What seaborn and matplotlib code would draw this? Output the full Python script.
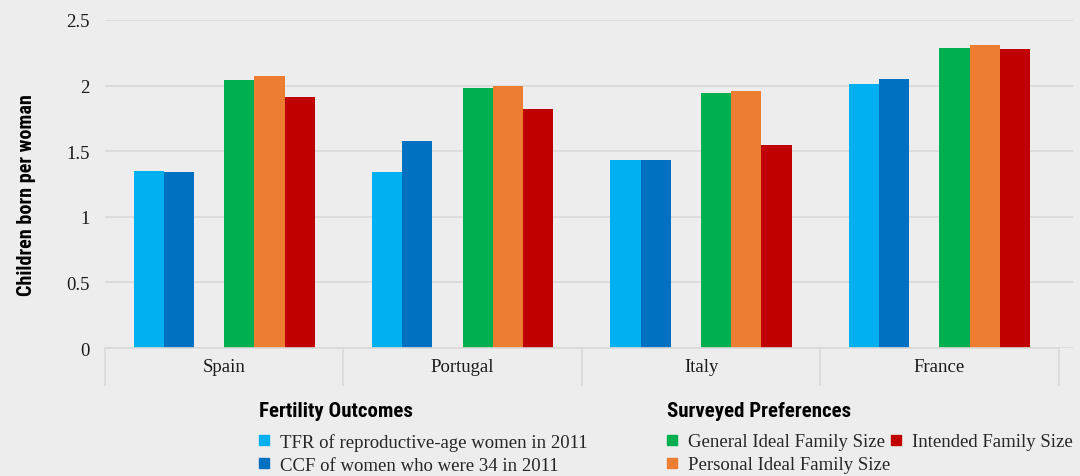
import pandas as pd
import matplotlib
matplotlib.use("Agg")
import matplotlib.pyplot as plt
from matplotlib.lines import Line2D
import seaborn as sns

# valores
paises = ["Spain", "Portugal", "Italy", "France"]
tfr_2011 = [1.35, 1.34, 1.43, 2.01]
ccf_34 = [1.34, 1.58, 1.43, 2.05]
ideal_general = [2.04, 1.98, 1.94, 2.29]
ideal_personal = [2.07, 2.00, 1.96, 2.31]
tamano_previsto = [1.91, 1.82, 1.55, 2.28]

series = {
    "TFR of reproductive-age women in 2011": tfr_2011,
    "CCF of women who were 34 in 2011": ccf_34,
    " ": [0, 0, 0, 0],  # hueco entre grupos
    "General Ideal Family Size": ideal_general,
    "Personal Ideal Family Size": ideal_personal,
    "Intended Family Size": tamano_previsto,
}
colores = {
    "TFR of reproductive-age women in 2011": "#00B0F0",
    "CCF of women who were 34 in 2011": "#0070C0",
    " ": "#EDEDED",
    "General Ideal Family Size": "#00B050",
    "Personal Ideal Family Size": "#ED7D31",
    "Intended Family Size": "#C00000",
}

filas = []
for nombre, valores in series.items():
    for pais, v in zip(paises, valores):
        filas.append({"pais": pais, "serie": nombre, "valor": v})
df = pd.DataFrame(filas)

sns.set_theme(style="white")
fondo = "#EDEDED"
rejilla = "#D9D9D9"
serif = ["Liberation Serif", "DejaVu Serif"]
cond = ["Roboto Condensed", "Roboto", "DejaVu Sans"]
plt.rcParams["font.family"] = serif

fig = plt.figure(figsize=(10.8, 4.77), dpi=100, facecolor=fondo)
ax = fig.add_axes([0.0972, 0.2683, 0.8963, 0.6877])
ax.set_facecolor(fondo)

sns.barplot(data=df, x="pais", y="valor", hue="serie", hue_order=list(series.keys()),
            order=paises, palette=colores, width=0.76, linewidth=0, saturation=1,
            legend=False, ax=ax)

ax.set_ylim(0, 2.5)
ax.set_xlim(-0.5, 3.56)
ax.set_yticks([0, 0.5, 1, 1.5, 2, 2.5])
ax.set_yticklabels(["0", "0.5", "1", "1.5", "2", "2.5"])
ax.yaxis.grid(True, color=rejilla, linewidth=1.2)
ax.set_axisbelow(True)
for s in ["top", "right", "left"]:
    ax.spines[s].set_visible(False)
ax.spines["bottom"].set_color(rejilla)
ax.spines["bottom"].set_linewidth(1.2)
ax.spines["bottom"].set_bounds(-0.5, 3.5)

# separadores de categoría tipo Excel
ax.set_xticks([-0.5, 0.5, 1.5, 2.5, 3.5])
ax.set_xticklabels([])
ax.set_xticks([0, 1, 2, 3], minor=True)
ax.set_xticklabels(paises, minor=True)
ax.tick_params(axis="x", which="major", length=27, width=1.2, color=rejilla, bottom=True)
ax.tick_params(axis="x", which="minor", length=0, pad=7, labelsize=13.5, colors="#1a1a1a")
ax.tick_params(axis="y", length=0, pad=11, labelsize=13.5, colors="#1a1a1a")

ax.set_xlabel("")
ax.set_ylabel("Children born per woman", family=cond, fontweight="bold", fontsize=14.5,
              color="black")
ax.yaxis.set_label_coords(-0.0715, 0.47)

# títulos de la leyenda
fig.text(259 / 1080, 1 - 417 / 477, "Fertility Outcomes", family=cond, fontweight="bold",
         fontsize=15, va="baseline", ha="left", color="black")
fig.text(667 / 1080, 1 - 417 / 477, "Surveyed Preferences", family=cond, fontweight="bold",
         fontsize=15, va="baseline", ha="left", color="black")

def cuadro(c):
    return Line2D([], [], marker="s", linestyle="", markersize=7.5, color=c)

grupo1 = ["TFR of reproductive-age women in 2011", "CCF of women who were 34 in 2011"]
grupo2 = ["General Ideal Family Size", "Personal Ideal Family Size", "Intended Family Size"]

opts = dict(loc="upper left", frameon=False, borderpad=0, borderaxespad=0,
            handlelength=0.5, handletextpad=0.6, labelspacing=0.32,
            prop={"family": serif, "size": 13.5})
fig.legend([cuadro(colores[k]) for k in grupo1], grupo1,
           bbox_to_anchor=(259 / 1080, 1 - 434 / 477), **opts)
fig.legend([cuadro(colores[k]) for k in grupo2], grupo2, ncol=2, columnspacing=0.1,
           bbox_to_anchor=(667 / 1080, 1 - 434 / 477), **opts)

fig.savefig("out.png", dpi=100, facecolor=fondo)
